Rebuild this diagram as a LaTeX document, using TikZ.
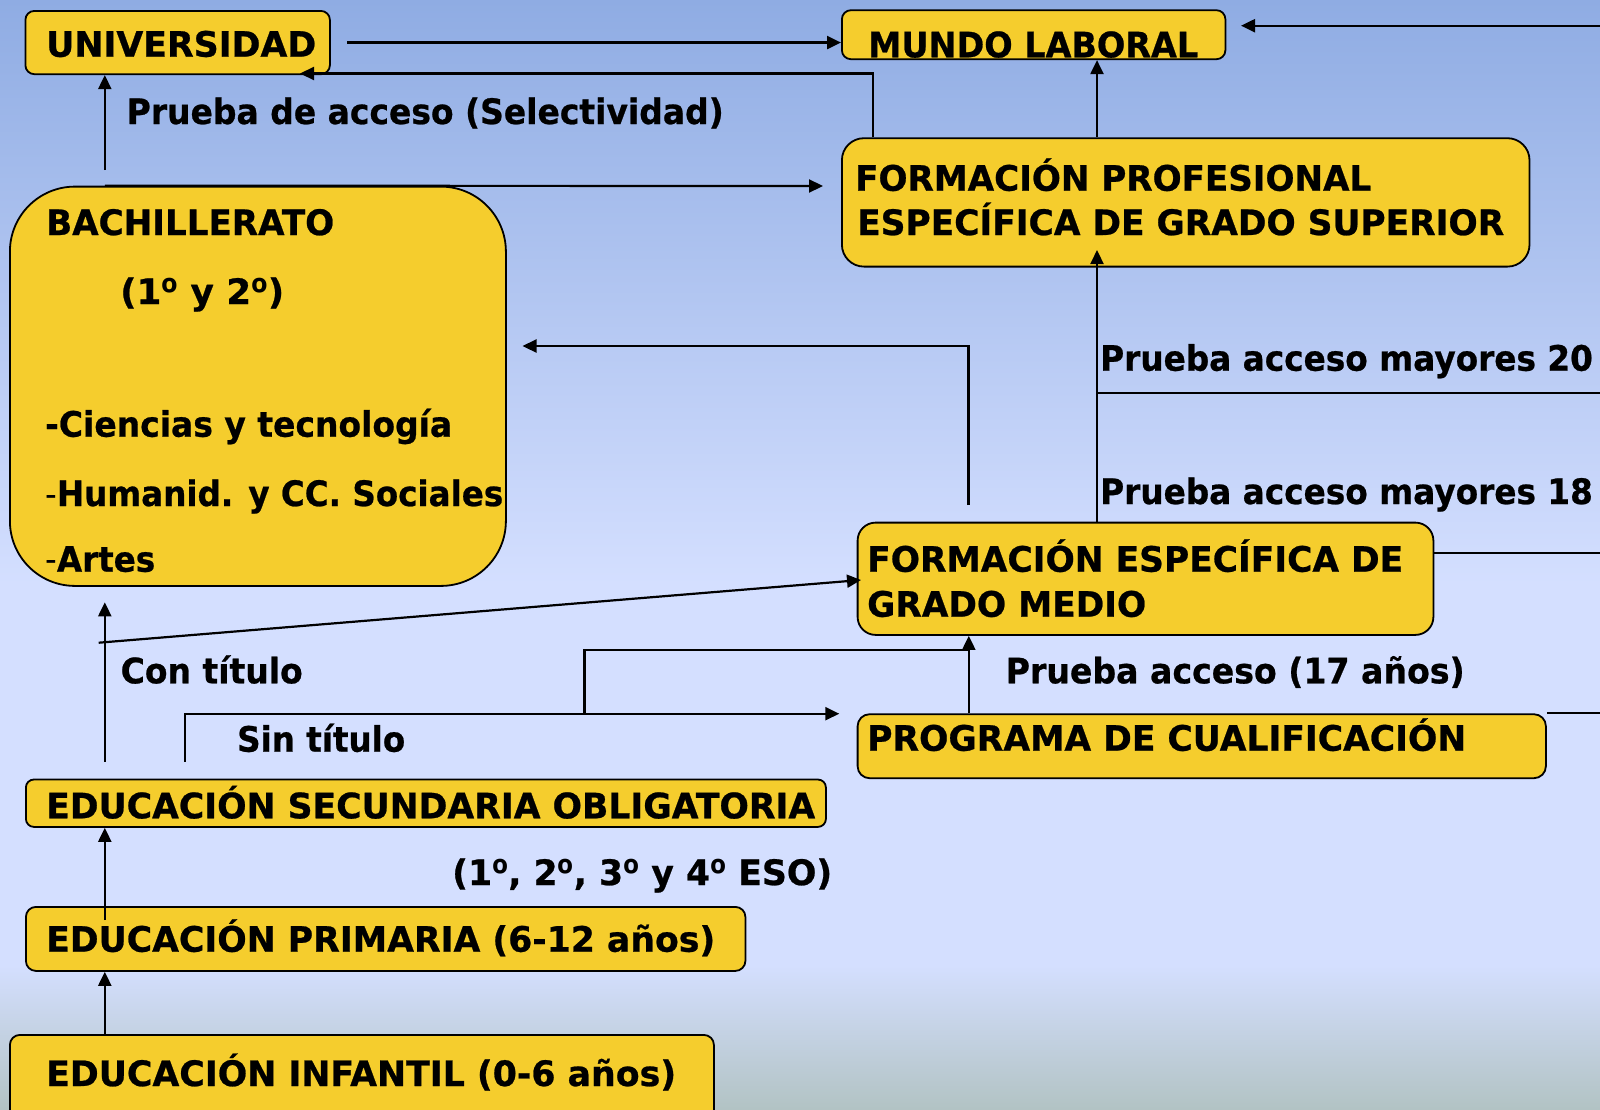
\documentclass[tikz,border=0pt]{standalone}
\usepackage{fontspec}
\setmainfont{DejaVu Sans}[BoldFeatures={FakeBold=0.7}]
\newfontfamily\ordfont{Open Sans}
\usepackage{graphicx}
\usetikzlibrary{arrows.meta}
\definecolor{bgTop}{RGB}{143,172,227}
\definecolor{bgMid}{RGB}{212,223,255}
\definecolor{bgBot}{RGB}{178,195,196}
\definecolor{boxYellow}{RGB}{245,205,45}
\newcommand{\fitw}[2]{\resizebox{#1pt}{\height}{#2}}
\newcommand{\thinhy}{{\mdseries -}}
\newcommand{\ordo}{\raisebox{-4pt}{\ordfont\bfseries\fontsize{42}{50}\selectfont º}}
\begin{document}
\begin{tikzpicture}[x=1pt,y=-1pt,
  box/.style={draw=black, line width=1.8pt, fill=boxYellow, inner sep=0pt, rounded corners=9pt},
  txt/.style={anchor=base west, inner sep=0pt, font=\fontsize{35}{42}\selectfont\bfseries},
  conn/.style={line width=2.2pt, draw=black},
  arr/.style={conn, -{Triangle[length=14pt,width=13pt]}}]
\useasboundingbox (0,0) rectangle (1600,1109);
% background
\fill[top color=bgTop, bottom color=bgMid] (0,0) rectangle (1600,585);
\fill[bgMid] (0,584) rectangle (1600,966);
\fill[top color=bgMid, bottom color=bgBot] (0,965) rectangle (1600,1109);

% boxes
\node[box, anchor=north west, minimum width=304.5pt, minimum height=63.3pt] (univ) at (24.5,10) {};
\node[box, anchor=north west, minimum width=383.5pt, minimum height=49pt] (mundo) at (841,9.3) {};
\node[box, anchor=north west, minimum width=687.6pt, minimum height=128.4pt, rounded corners=22pt] (fpsup) at (841,137.3) {};
\node[box, anchor=north west, minimum width=496pt, minimum height=399.3pt, rounded corners=65pt] (bach) at (9,185.7) {};
\node[box, anchor=north west, minimum width=575.8pt, minimum height=112.3pt, rounded corners=18pt] (fpmed) at (856.7,521.7) {};
\node[box, anchor=north west, minimum width=688.3pt, minimum height=64pt, rounded corners=12pt] (pcpi) at (856.7,713.3) {};
\node[box, anchor=north west, minimum width=800pt, minimum height=47.4pt, rounded corners=8pt] (eso) at (25,778.6) {};
\node[box, anchor=north west, minimum width=719.5pt, minimum height=64pt, rounded corners=10pt] (prim) at (25,906) {};
\node[box, anchor=north west, minimum width=704pt, minimum height=95pt, rounded corners=10pt] (inf) at (9,1034) {};

% coordinates
\coordinate (xL) at (104.8,0);
\coordinate (xFP) at (1097,0);
\coordinate (x969) at (968.8,0);
\coordinate (rTop) at (1600,25.7);
\coordinate (mundoIn) at (1241,25.7);
\coordinate (fsTurn) at (873,73.5);
\coordinate (univTip) at (300,73.5);
\coordinate (bachUp) at (104.8,170);
\coordinate (fpsupIn) at (823,186);
\coordinate (bk1) at (968.4,505);
\coordinate (bk2) at (968.4,346);
\coordinate (bachIn) at (522.5,346);
\coordinate (fpsupTip) at (1097,250);
\coordinate (r20) at (1600,393.3);
\coordinate (r18) at (1600,553.3);
\coordinate (r17) at (1600,713.3);
\coordinate (sl0) at (98.7,642.7);
\coordinate (sl1) at (861,580);
\coordinate (ct0) at (104.8,761.7);
\coordinate (ct1) at (104.8,602.3);
\coordinate (st0) at (184.8,761.7);
\coordinate (st1) at (184.8,713.7);
\coordinate (pcpiIn) at (839.3,713.7);
\coordinate (p17a) at (584.4,713.7);
\coordinate (p17b) at (584.4,650);
\coordinate (primIn) at (104.8,920);

% connectors
\draw[arr] ([xshift=16.5pt]univ.east) -- (univ.east -| mundo.west);
\draw[arr] (rTop) -- (mundoIn);
\draw[arr] (fpsup.north -| fsTurn) -- (fsTurn) -- (univTip);
\draw[arr] (fpsup.north -| xFP) -- (mundo.south -| xFP);
\draw[arr] (bachUp) -- (univ.south -| bachUp);
\draw[arr] (bach.north -| xL) -- (fpsupIn);
\draw[arr] (bk1) -- (bk2) -- (bachIn);
\draw[arr] (fpmed.north -| xFP) -- (fpsupTip);
\draw[conn] (xFP |- r20) -- (r20);
\draw[conn] (fpmed.east |- r18) -- (r18);
\draw[conn] (pcpi.north east) -- (r17);
\draw[arr] (sl0) -- (sl1);
\draw[arr] (ct0) -- (ct1);
\draw[arr] (st0) -- (st1) -- (pcpiIn);
\draw[conn] (p17a) -- (p17b) -- (x969 |- p17b);
\draw[arr] (pcpi.north -| x969) -- (fpmed.south -| x969);
\draw[arr] (primIn) -- (eso.south -| primIn);
\draw[arr] (inf.north -| xL) -- (prim.south -| xL);

% texts
\node[txt] (tUniv) at (46,56.7) {\fitw{270}{UNIVERSIDAD}};
\node[txt] (tMundo) at (868,57.3) {\fitw{330}{MUNDO LABORAL}};
\node[txt] (tSel) at (126.5,124) {\fitw{597}{Prueba de acceso (Selectividad)}};
\node[txt] (tFP1) at (855,190.7) {\fitw{516}{FORMACIÓN PROFESIONAL}};
\node[txt] (tFP2) at (857,235) {\fitw{647}{ESPECÍFICA DE GRADO SUPERIOR}};
\node[txt] (tBach) at (46,235) {\fitw{288}{BACHILLERATO}};
\node[txt] (tBach2) at (120,304) {\fitw{164}{(1\ordo{} y 2\ordo)}};
\node[txt] (tCien) at (45,436.7) {\fitw{407}{-Ciencias y tecnología}};
\node[txt] (tHum) at (45,506) {\fitw{458}{\thinhy Humanid. y CC. Sociales}};
\node[txt] (tArt) at (45,571.7) {\fitw{110}{\thinhy Artes}};
\node[txt] (t20) at (1100,370.7) {\scalebox{0.935}[1]{Prueba acceso mayores 20}};
\node[txt] (t18) at (1100,504) {\scalebox{0.935}[1]{Prueba acceso mayores 18}};
\node[txt] (tFM1) at (867,571.7) {\fitw{536}{FORMACIÓN ESPECÍFICA DE}};
\node[txt] (tFM2) at (867,616.7) {\fitw{279}{GRADO MEDIO}};
\node[txt] (t17) at (1005.5,683.3) {\fitw{459}{Prueba acceso (17 años)}};
\node[txt] (tCon) at (120.5,683.3) {\fitw{182}{Con título}};
\node[txt] (tSin) at (237,751.7) {\fitw{168}{Sin título}};
\node[txt] (tPC) at (867,750.7) {\fitw{599}{PROGRAMA DE CUALIFICACIÓN}};
\node[txt] (tESO) at (46,818.3) {\fitw{769}{EDUCACIÓN SECUNDARIA OBLIGATORIA}};
\node[txt] (tESO2) at (452,885) {\fitw{380}{(1\ordo, 2\ordo, 3\ordo{} y 4\ordo{} ESO)}};
\node[txt] (tPrim) at (46,951.7) {\fitw{669}{EDUCACIÓN PRIMARIA (6-12 años)}};
\node[txt] (tInf) at (46,1086) {\fitw{630}{EDUCACIÓN INFANTIL (0-6 años)}};
\end{tikzpicture}
\end{document}
